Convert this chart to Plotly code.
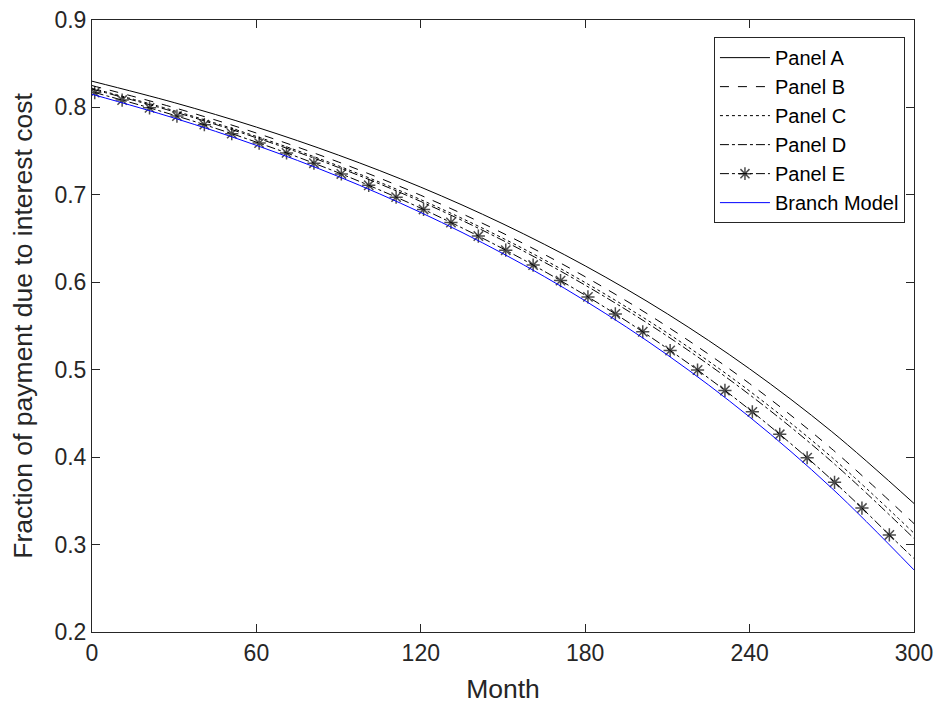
import plotly.graph_objects as go

months = [0, 30, 60, 90, 120, 150, 180, 210, 240, 270, 300]
panel_a = [0.830, 0.8055, 0.7775, 0.7454, 0.7088, 0.6668, 0.6188, 0.5639, 0.5010, 0.4292, 0.347]
panel_b = [0.825, 0.7997, 0.7707, 0.7375, 0.6995, 0.6561, 0.6063, 0.5493, 0.4841, 0.4094, 0.324]
panel_c = [0.822, 0.7963, 0.7668, 0.7331, 0.6945, 0.6503, 0.5997, 0.5419, 0.4756, 0.3998, 0.313]
panel_d = [0.821, 0.7950, 0.7653, 0.7313, 0.6924, 0.6478, 0.5967, 0.5383, 0.4714, 0.3948, 0.307]
branch = [0.815, 0.7878, 0.7566, 0.7209, 0.6798, 0.6328, 0.5788, 0.5169, 0.4459, 0.3645, 0.271]

months_e = [1, 11, 21, 31, 41, 51, 61, 71, 81, 91, 101, 111, 121, 131, 141, 151,
            161, 171, 181, 191, 201, 211, 221, 231, 241, 251, 261, 271, 281, 291, 300]
panel_e = [0.817, 0.8084, 0.7995, 0.7901, 0.7803, 0.7700, 0.7592, 0.7480, 0.7362, 0.7239,
           0.7109, 0.6974, 0.6833, 0.6684, 0.6529, 0.6367, 0.6197, 0.6019, 0.5833, 0.5638,
           0.5434, 0.5220, 0.4997, 0.4763, 0.4518, 0.4261, 0.3993, 0.3712, 0.3418, 0.3110, 0.284]

x_ticks = [0, 60, 120, 180, 240, 300]
y_ticks = [0.2, 0.3, 0.4, 0.5, 0.6, 0.7, 0.8, 0.9]

FONT = "Liberation Sans, Arial, Helvetica, sans-serif"
AX = "#262626"

fig = go.Figure()
fig.add_trace(go.Scatter(x=months, y=panel_a, mode="lines", name="Panel A",
                         line=dict(color="black", width=1, shape="spline")))
fig.add_trace(go.Scatter(x=months, y=panel_b, mode="lines", name="Panel B",
                         line=dict(color="black", width=1, dash="dash", shape="spline")))
fig.add_trace(go.Scatter(x=months, y=panel_c, mode="lines", name="Panel C",
                         line=dict(color="black", width=1, dash="dot", shape="spline")))
fig.add_trace(go.Scatter(x=months, y=panel_d, mode="lines", name="Panel D",
                         line=dict(color="black", width=1, dash="dashdot", shape="spline")))
sizes = [11] * (len(months_e) - 1) + [0]
fig.add_trace(go.Scatter(x=months_e, y=panel_e, mode="lines+markers", name="Panel E",
                         line=dict(color="black", width=1, dash="dashdot", shape="spline"),
                         marker=dict(symbol="asterisk-open", size=sizes, color="black",
                                     line=dict(color="black", width=1.5))))
fig.add_trace(go.Scatter(x=months, y=branch, mode="lines", name="Branch Model",
                         line=dict(color="#0000ff", width=1, shape="spline")))

axis_common = dict(
    showline=True, linecolor=AX, linewidth=1, mirror="ticks",
    ticks="inside", ticklen=8, tickwidth=1, tickcolor=AX,
    showgrid=False, zeroline=False, automargin=False,
    tickfont=dict(family=FONT, size=23, color=AX),
)

fig.update_layout(
    width=936, height=705,
    margin=dict(l=92, r=22, t=20, b=73, autoexpand=False),
    paper_bgcolor="white", plot_bgcolor="white",
    font=dict(family=FONT, color=AX),
    showlegend=True,
    legend=dict(x=0.989, y=0.972, xanchor="right", yanchor="top",
                bordercolor=AX, borderwidth=1, bgcolor="white",
                font=dict(family=FONT, size=20, color="black"),
                tracegroupgap=0, itemwidth=50),
    xaxis=dict(range=[0, 300], tickvals=x_ticks, ticktext=[str(v) for v in x_ticks],
               title=dict(text="Month", font=dict(family=FONT, size=26.5, color=AX), standoff=14),
               **axis_common),
    yaxis=dict(range=[0.2, 0.9], tickvals=y_ticks, ticktext=[f"{v:.1f}" for v in y_ticks],
               title=dict(text="Fraction of payment due to interest cost",
                          font=dict(family=FONT, size=26.5, color=AX), standoff=14),
               **axis_common),
)

fig.write_html("out.html", config={"displayModeBar": False},
               post_script="document.body.style.margin='0';")
